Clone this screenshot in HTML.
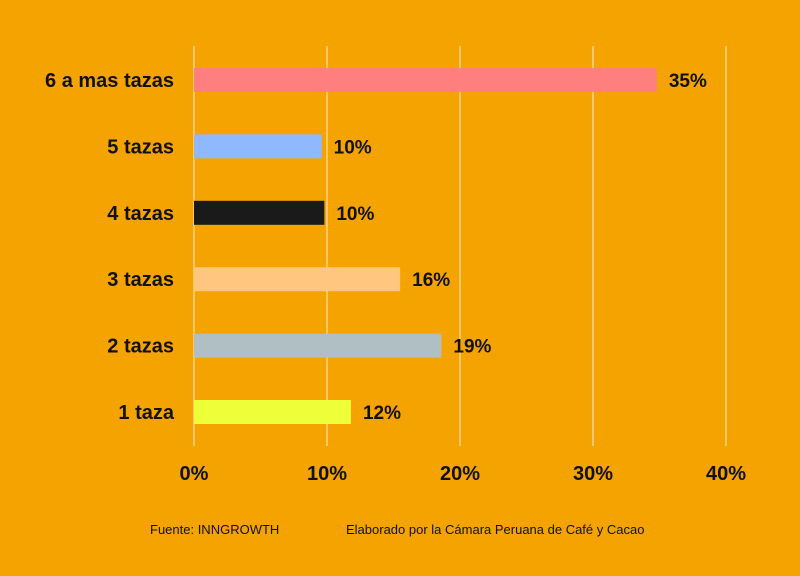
<!DOCTYPE html>
<html><head><meta charset="utf-8"><style>
body{margin:0;background:#F5A300;}
svg{display:block;font-family:"Liberation Sans",Arial,sans-serif;}
</style></head><body>
<svg id="chart" width="800" height="576">
<rect width="800" height="576" fill="#F5A300"/>
<g id="grid"></g><g id="bars"></g><g id="labels"></g>
<text x="150" y="534" font-size="13" fill="#111">Fuente: INNGROWTH</text>
<text x="346" y="534" font-size="13" fill="#111">Elaborado por la Cámara Peruana de Café y Cacao</text>
</svg>
<script>
const categories=["6 a mas tazas","5 tazas","4 tazas","3 tazas","2 tazas","1 taza"];
const values=[34.8,9.6,9.8,15.5,18.6,11.8];
const valueLabels=["35%","10%","10%","16%","19%","12%"];
const colors=["#FF7F7F","#8FB8FF","#1A1A1A","#FFC680","#B0BFC4","#EEFF3A"];
const ticks=[0,10,20,30,40];
const tickLabels=["0%","10%","20%","30%","40%"];
const ns="http://www.w3.org/2000/svg";
const x=v=>194+v*13.3;
const y=i=>80+i*66.4;
function mk(t,a,p){const e=document.createElementNS(ns,t);for(const k in a)e.setAttribute(k,a[k]);p.appendChild(e);return e;}
const g=document.getElementById('grid'),b=document.getElementById('bars'),l=document.getElementById('labels');
ticks.forEach((t,i)=>{
 const ln=mk('line',{x1:x(t),x2:x(t),y1:46,y2:446,stroke:'#F8E0B0','stroke-width':1.2},g);
 
 
 const tx=mk('text',{x:x(t),y:480,'font-size':20,'font-weight':'bold','text-anchor':'middle',fill:'#111'},l);
 tx.textContent=tickLabels[i];
 
 
});
categories.forEach((c,i)=>{
 const r=mk('rect',{x:x(0),y:y(i)-12,width:x(values[i])-x(0),height:24,fill:colors[i]},b);
 
 
 const ct=mk('text',{x:174,y:y(i)+7,'font-size':20,'font-weight':'bold','text-anchor':'end',fill:'#111'},l);
 ct.textContent=c;
 
 
 const vt=mk('text',{x:x(values[i])+12,y:y(i)+7,'font-size':19,'font-weight':'bold',fill:'#111'},l);
 vt.textContent=valueLabels[i];
 
 
});
</script>
</body></html>
